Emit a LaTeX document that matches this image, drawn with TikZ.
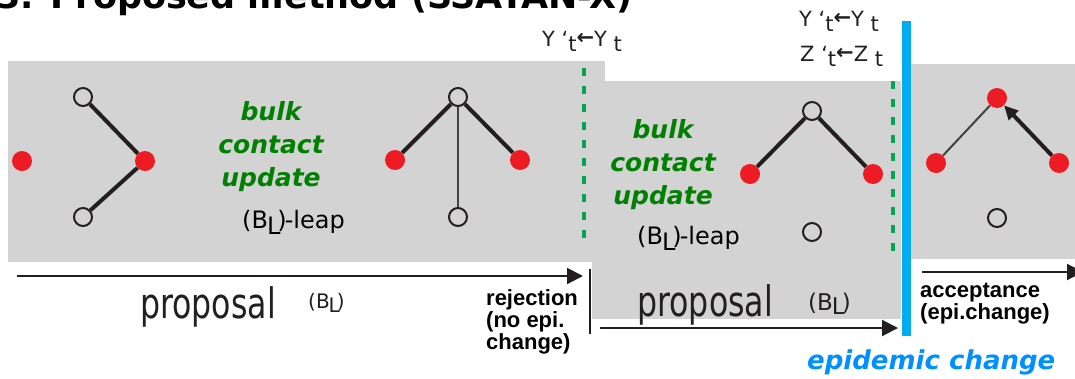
\documentclass[tikz,border=0pt]{standalone}
\usepackage{fontspec}
\setmainfont{DejaVu Sans}
\newfontfamily\arialf{Liberation Sans}
\usetikzlibrary{arrows.meta}
\definecolor{boxgray}{RGB}{211,211,211}
\definecolor{dotred}{RGB}{237,28,36}
\definecolor{dashgreen}{RGB}{0,166,81}
\definecolor{bulkgreen}{RGB}{0,128,0}
\definecolor{epiblue}{RGB}{0,174,239}
\definecolor{epitext}{RGB}{0,145,255}
\definecolor{ink}{RGB}{35,31,32}
\newcommand{\lowsub}[1]{\raisebox{-5pt}{#1}}
\newcommand{\getsarrow}{{\bfseries\raisebox{2pt}{←}}}
\begin{document}
\begin{tikzpicture}[x=1pt,y=-1pt,
 redv/.style={circle,fill=dotred,minimum size=20pt,inner sep=0pt},
 openv/.style={circle,draw=ink,line width=2pt,minimum size=18pt,inner sep=0pt},
 thickedge/.style={line width=4pt,draw=ink},
 thinedge/.style={line width=2pt,draw=ink!85!white},
 gdash/.style={draw=dashgreen,line width=4pt,dash pattern=on 8pt off 10pt},
 bulk/.style={text=bulkgreen,font=\fontsize{25}{33}\selectfont\bfseries\itshape,align=center,inner sep=0pt},
 leap/.style={font=\fontsize{24}{28}\selectfont,text=black,inner sep=0pt},
 timearrow/.style={line width=2pt,draw=ink,-{Triangle[length=16pt,width=16pt]}},
 prop/.style={font=\fontsize{40}{40}\selectfont,text=ink,inner sep=0pt},
 propsub/.style={font=\fontsize{20}{20}\selectfont,text=ink,inner sep=0pt},
 decision/.style={font=\arialf\bfseries\fontsize{22}{22}\selectfont,align=left,inner sep=0pt,text=black},
 upd/.style={font=\fontsize{21}{22}\selectfont,text=ink,inner sep=0pt}]
\clip (0,0) rectangle (1075,378);
\fill[white] (0,0) rectangle (1075,378);
% title (cut by the top edge)
\node[anchor=base west,inner sep=0pt,font=\bfseries\fontsize{35}{35}\selectfont] (title) at (-4,8) {3. Proposed method (SSATAN-X)};
% grey panels
\fill[boxgray] (8,61) rectangle (605,262);
\fill[boxgray] (592,81) rectangle (901,319);
\fill[boxgray] (911,64) rectangle (1075,259);
% dashed and solid separators
\draw[gdash] (584,68) -- (584,245);
\draw[gdash] (893,81) -- (893,253);
\draw[draw=epiblue,line width=9pt] (906.5,21) -- (906.5,336);
% graph 1
\node[redv] (a1) at (22,161) {};
\node[openv] (a2) at (83,97) {};
\node[redv] (a3) at (145,161) {};
\node[openv] (a4) at (83,217) {};
\draw[thickedge] (a2) -- (a3);
\draw[thickedge] (a4) -- (a3);
% graph 2
\node[openv] (b1) at (458,97) {};
\node[redv] (b2) at (395,160) {};
\node[redv] (b3) at (520,160) {};
\node[openv] (b4) at (458,217) {};
\draw[thickedge] (b1) -- (b2);
\draw[thickedge] (b1) -- (b3);
\draw[thinedge] (b1) -- (b4);
% graph 3
\node[openv] (c1) at (812,111) {};
\node[redv] (c2) at (750,174) {};
\node[redv] (c3) at (873,174) {};
\node[openv] (c4) at (812,232) {};
\draw[thickedge] (c1) -- (c2);
\draw[thickedge] (c1) -- (c3);
% graph 4
\node[redv] (d1) at (997,98) {};
\node[redv] (d2) at (936,163) {};
\node[redv] (d3) at (1059,163) {};
\node[openv] (d4) at (997,218) {};
\draw[thinedge] (d2) -- (d1);
\draw[thickedge,-{Triangle[length=14pt,width=13pt]}] (d3) -- (d1);
% texts in panels
\node[bulk] (bulk1) at (271,147) {bulk\\contact\\update};
\node[leap,anchor=west] (leap1) at (242,222) {(B\kern-1pt\raisebox{-6pt}{L}\kern-3pt)\kern-2pt-leap};
\node[bulk] (bulk2) at (663,165) {bulk\\contact\\update};
\node[leap,anchor=west] (leap2) at (637,238) {(B\kern-1pt\raisebox{-6pt}{L}\kern-3pt)\kern-2pt-leap};
% update labels
\node[upd,anchor=base west] (u1) at (542,46) {Y `\lowsub{t}\getsarrow Y \lowsub{t}};
\node[upd,anchor=base west] (u2) at (799,26) {Y `\lowsub{t}\getsarrow Y \lowsub{t}};
\node[upd,anchor=base west] (u3) at (800,61) {Z `\lowsub{t}\getsarrow Z \lowsub{t}};
% time arrows
\coordinate (p1s) at (17,276);
\coordinate (p1e) at (583,276);
\draw[timearrow] (p1s) -- (p1e);
\coordinate (v1t) at (590,269);
\coordinate (v1b) at (590,334);
\draw[line width=2pt,draw=ink] (v1t) -- (v1b);
\coordinate (p2s) at (600,328);
\coordinate (p2e) at (898,328);
\draw[timearrow] (p2s) -- (p2e);
\coordinate (p3s) at (922,272);
\coordinate (p3e) at (1083,272);
\draw[timearrow] (p3s) -- (p3e);
% proposal labels
\node[prop,anchor=base west] (prop1) at (140,318) {\scalebox{0.79}[1.05]{proposal}};
\node[propsub,anchor=base west] (sub1) at (308,308) {(B\kern-1pt\raisebox{-4pt}{L}\kern-3pt)};
\node[prop,anchor=base west] (prop2) at (637,316) {\scalebox{0.79}[1.05]{proposal}};
\node[propsub,anchor=base west,font=\fontsize{23}{23}\selectfont] (sub2) at (808,310) {(B\kern-1pt\raisebox{-4pt}{L}\kern-3pt)};
% decisions
\node[decision,anchor=north west] (rej) at (486,289) {rejection\\(no epi.\\change)};
\node[decision,anchor=north west] (acc) at (920,283) {acceptance\\(epi.change)};
\node[anchor=base west,inner sep=0pt,text=epitext,font=\fontsize{26}{26}\selectfont\bfseries\itshape] (epi) at (807,369) {epidemic change};
\end{tikzpicture}
\end{document}
